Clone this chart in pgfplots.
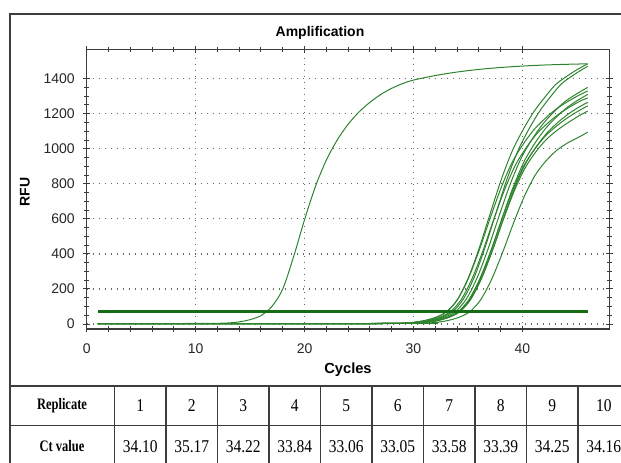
\documentclass[border=0pt]{standalone}
\usepackage{fontspec}
\setmainfont{Liberation Sans}
\newfontfamily\tabfont{Liberation Serif}
\usepackage{pgfplots}
\pgfplotsset{compat=1.18}

\definecolor{curve}{RGB}{46,132,46}
\definecolor{thresh}{RGB}{20,108,20}
\definecolor{frame}{RGB}{60,60,60}

\newcommand{\tablab}[1]{\scalebox{0.78}[1]{\tabfont\bfseries\fontsize{12}{14}\selectfont #1}}
\newcommand{\tabnum}[1]{\scalebox{0.86}[1]{\tabfont\fontsize{13.5}{15}\selectfont #1}}

\begin{document}
\begin{tikzpicture}[x=0.75pt,y=0.75pt]
\useasboundingbox (0,0) rectangle (621,463);

\begin{scope}
\clip (0,0) rectangle (621,463);
% outer frame of the chart
\draw[frame, line width=0.9pt] (10,449) rectangle (640,77);
% table grid
\draw[frame, line width=0.9pt] (10,37.5) -- (640,37.5);
\foreach \xx in {10,114.5,166,217.5,269,320.5,372,423.5,475,526.5,578,629.5}
  \draw[frame, line width=0.9pt] (\xx,77) -- (\xx,-10);
\end{scope}

% table text
\node at (62,57.5) {\tablab{Replicate}};
\node at (62,16.5) {\tablab{Ct value}};
\foreach \i/\v [count=\k from 0] in {1/34.10,2/35.17,3/34.22,4/33.84,5/33.06,6/33.05,7/33.58,8/33.39,9/34.25,10/34.16}{
  \node at (140.25+51.5*\k,57.5) {\tabnum{\i}};
  \node at (140.25+51.5*\k,16.5) {\tabnum{\v}};
}

\begin{axis}[
    at={(65.03pt,100.5pt)}, anchor=south west,
    scale only axis,
    width=392.1pt, height=209.8pt,
    xmin=0, xmax=48,
    ymin=-28.5, ymax=1568,
    xtick={0,10,20,30,40},
    minor x tick num=4,
    ytick={0,200,400,600,800,1000,1200,1400},
    minor y tick num=3,
    tick align=center,
    major tick length=5pt,
    minor tick length=4pt,
    axis line style={frame, line width=0.9pt},
    tick style={frame, line width=0.75pt},
    grid=major,
    major grid style={black!60, line width=0.9pt, dash pattern=on 0.9pt off 3.6pt},
    /pgf/number format/assume math mode=true,
    /pgf/number format/1000 sep={},
    scaled y ticks=false,
    ticklabel style={font=\fontsize{10.5}{12}\selectfont, text=black!85},
    xticklabel style={yshift=-5pt},
    yticklabel style={xshift=-3pt},
    clip=false,
]
% positive control
\addplot[curve, line width=0.75pt, smooth] coordinates {
(1,2) (10,3) (12,4) (13,6) (14,12) (15,25) (16,48) (17,100) (18,200) (19,385)
(20,595) (21,785) (22,935) (23,1050) (24,1140) (25,1210) (26,1265) (27,1310)
(28,1345) (29,1372) (30,1392) (32,1418) (34,1438) (36,1453) (38,1464) (40,1472)
(42,1478) (44,1482) (46,1485)};
% replicates
\addplot[curve, line width=0.75pt, smooth] coordinates {
(1,2) (28.05,3) (29.05,5) (30.05,10) (31.05,20) (32.05,38) (33.05,70) (34.05,140)
(35.05,261) (36.05,423) (37.05,605) (38.05,778) (39.05,921) (40.05,1024)
(41.05,1108) (42.05,1171) (43.05,1224) (44.05,1265) (45.05,1301) (46,1330)};
\addplot[curve, line width=0.75pt, smooth] coordinates {
(1,2) (28.06,3) (29.06,5) (30.06,10) (31.06,20) (32.06,38) (33.06,70) (34.06,142)
(35.06,267) (36.06,438) (37.06,633) (38.06,824) (39.06,986) (40.06,1108)
(41.06,1212) (42.06,1294) (43.06,1367) (44.06,1413) (45.06,1453) (46,1485)};
\addplot[curve, line width=0.75pt, smooth] coordinates {
(1,2) (28.39,3) (29.39,5) (30.39,10) (31.39,20) (32.39,38) (33.39,70) (34.39,140)
(35.39,260) (36.39,420) (37.39,600) (38.39,770) (39.39,910) (40.39,1010)
(41.39,1090) (42.39,1150) (43.39,1200) (44.39,1240) (45.39,1275) (46,1290)};
\addplot[curve, line width=0.75pt, smooth] coordinates {
(1,2) (28.58,3) (29.58,5) (30.58,10) (31.58,20) (32.58,38) (33.58,70) (34.58,142)
(35.58,267) (36.58,438) (37.58,634) (38.58,825) (39.58,987) (40.58,1110)
(41.58,1214) (42.58,1297) (43.58,1370) (44.58,1416) (45.58,1456) (46,1470)};
\addplot[curve, line width=0.75pt, smooth] coordinates {
(1,2) (28.84,3) (29.84,5) (30.84,10) (31.84,20) (32.84,38) (33.84,70) (34.84,141)
(35.84,263) (36.84,427) (37.84,613) (38.84,791) (39.84,940) (40.84,1049)
(41.84,1138) (42.84,1207) (43.84,1266) (44.84,1308) (45.84,1345) (46,1350)};
\addplot[curve, line width=0.75pt, smooth] coordinates {
(1,2) (29.10,3) (30.10,5) (31.10,10) (32.10,20) (33.10,38) (34.10,70) (35.10,140)
(36.10,259) (37.10,417) (38.10,595) (39.10,762) (40.10,899) (41.10,995)
(42.10,1072) (43.10,1128) (44.10,1175) (45.10,1214) (46,1245)};
\addplot[curve, line width=0.75pt, smooth] coordinates {
(1,2) (29.16,3) (30.16,5) (31.16,10) (32.16,20) (33.16,38) (34.16,70) (35.16,140)
(36.16,262) (37.16,424) (38.16,608) (39.16,782) (40.16,927) (41.16,1033)
(42.16,1118) (43.16,1183) (44.16,1238) (45.16,1280) (46,1310)};
\addplot[curve, line width=0.75pt, smooth] coordinates {
(1,2) (29.22,3) (30.22,5) (31.22,10) (32.22,20) (33.22,38) (34.22,70) (35.22,139)
(36.22,258) (37.22,415) (38.22,590) (39.22,754) (40.22,887) (41.22,981)
(42.22,1054) (43.22,1107) (44.22,1150) (45.22,1189) (46,1215)};
\addplot[curve, line width=0.75pt, smooth] coordinates {
(1,2) (29.25,3) (30.25,5) (31.25,10) (32.25,20) (33.25,38) (34.25,70) (35.25,140)
(36.25,260) (37.25,420) (38.25,600) (39.25,770) (40.25,910) (41.25,1010)
(42.25,1090) (43.25,1150) (44.25,1200) (45.25,1240) (46,1265)};
\addplot[curve, line width=0.75pt, smooth] coordinates {
(1,2) (30.17,3) (31.17,5) (32.17,10) (33.17,20) (34.17,38) (35.17,70) (36.17,138)
(37.17,254) (38.17,406) (39.17,573) (40.17,727) (41.17,849) (42.17,931)
(43.17,992) (44.17,1034) (45.17,1066) (46,1095)};
% threshold
\addplot[thresh, line width=2.2pt] coordinates {(1,70) (46,70)};
\end{axis}

% titles
\node[font=\bfseries\fontsize{10.5}{12}\selectfont] at (320,430) {Amplification};
\node[font=\bfseries\fontsize{11}{13}\selectfont] at (348,93) {Cycles};
\node[font=\bfseries\fontsize{10.5}{12}\selectfont, rotate=90] at (25,271) {RFU};
\end{tikzpicture}
\end{document}
